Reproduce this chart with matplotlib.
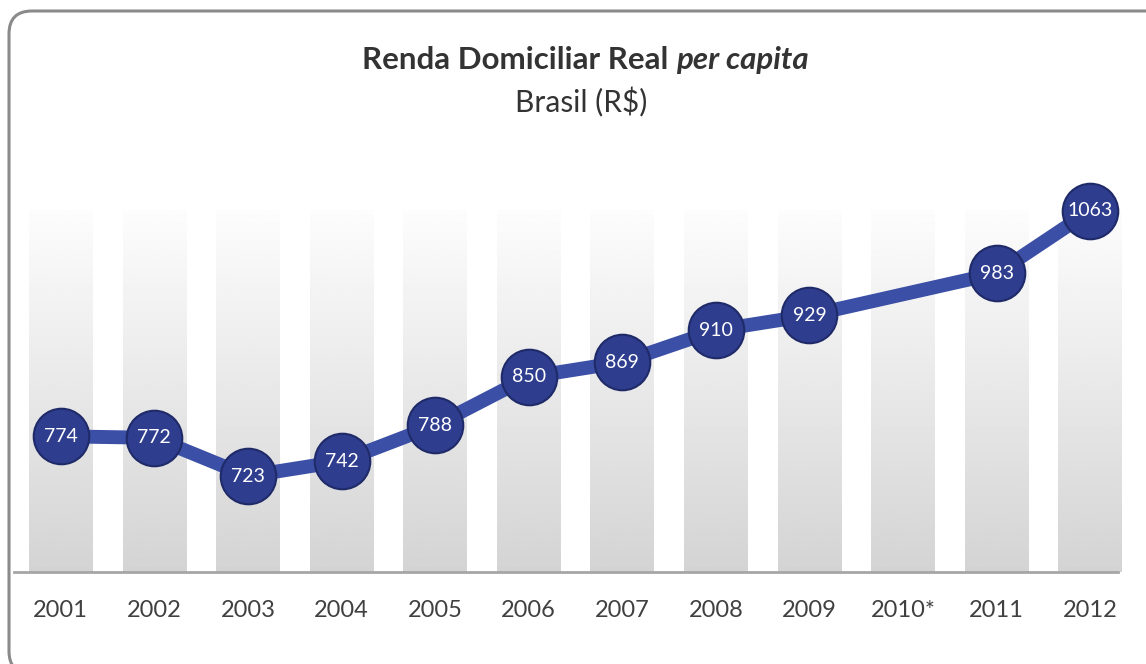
import matplotlib.pyplot as plt
import numpy as np
from matplotlib.patches import FancyBboxPatch

plt.rcParams['font.family'] = ['Lato', 'DejaVu Sans']

# dados
anos = ['2001', '2002', '2003', '2004', '2005', '2006', '2007', '2008', '2009', '2010*', '2011', '2012']
renda = [774, 772, 723, 742, 788, 850, 869, 910, 929, None, 983, 1063]

y_min, y_max = 600, 1100
larg_barra = 0.68

fig = plt.figure(figsize=(11.46, 6.64), dpi=100)
ax = fig.add_axes([14 / 1146, 92 / 664, (1137 - 14) / 1146, (482 - 92) / 664])

x = np.arange(len(anos))
topo = max(v for v in renda if v is not None)

# barras de fundo com degrade
grad = np.linspace(0.83, 0.99, 256).reshape(-1, 1)
for xi in x:
    ax.imshow(grad, cmap='gray', vmin=0, vmax=1, aspect='auto', origin='lower',
              extent=[xi - larg_barra / 2, xi + larg_barra / 2, y_min, topo], zorder=1)

# linha (2010 sem dado)
xs = [xi for xi, v in zip(x, renda) if v is not None]
ys = [v for v in renda if v is not None]
ax.plot(xs, ys, color='#3A4FA5', lw=10, zorder=2, solid_capstyle='round')
ax.plot(xs, ys, 'o', ms=40, mfc='#2E3D8E', mec='#1F2A68', mew=1.5, zorder=3)
for xi, v in zip(xs, ys):
    ax.text(xi, v, str(v), ha='center', va='center', color='white', fontsize=14, zorder=4)

ax.set_xlim(-0.5, 11.5)
ax.set_ylim(y_min, y_max)
ax.set_xticks(x)
ax.set_xticklabels(anos, fontsize=17, color='#404040')
ax.tick_params(axis='x', length=0, pad=20)
ax.set_yticks([])
for s in ['top', 'right', 'left']:
    ax.spines[s].set_visible(False)
ax.spines['bottom'].set_color('#a6a6a6')
ax.spines['bottom'].set_linewidth(2)
ax.spines['bottom'].set_bounds(-0.5, 11.3)

# titulo em duas partes (negrito + negrito italico)
r = fig.canvas.get_renderer()
t1 = fig.text(0, 1 - 60 / 664, 'Renda Domiciliar Real ', ha='left', va='center',
              fontsize=22.5, fontweight='bold', color='#333333')
t2 = fig.text(0, 1 - 60 / 664, 'per capita', ha='left', va='center',
              fontsize=22.5, fontweight='bold', style='italic', color='#333333')
w1 = t1.get_window_extent(r).width
w2 = t2.get_window_extent(r).width
x0 = (1146 - w1 - w2) / 2 + 12
t1.set_x(x0 / 1146)
t2.set_x((x0 + w1) / 1146)
fig.text(0.5 + 8 / 1146, 1 - 102 / 664, 'Brasil (R$)', ha='center', va='center', fontsize=21.5,
         color='#333333')

# moldura arredondada
caixa = FancyBboxPatch((9 / 1146, -10 / 664), 1.05, (664 - 11 + 10) / 664,
                       boxstyle='round,pad=0,rounding_size=0.02', transform=fig.transFigure,
                       fill=False, ec='#8a8a8a', lw=2.2, mutation_aspect=1146 / 664)
fig.patches.append(caixa)

fig.savefig('out.png', dpi=100)
